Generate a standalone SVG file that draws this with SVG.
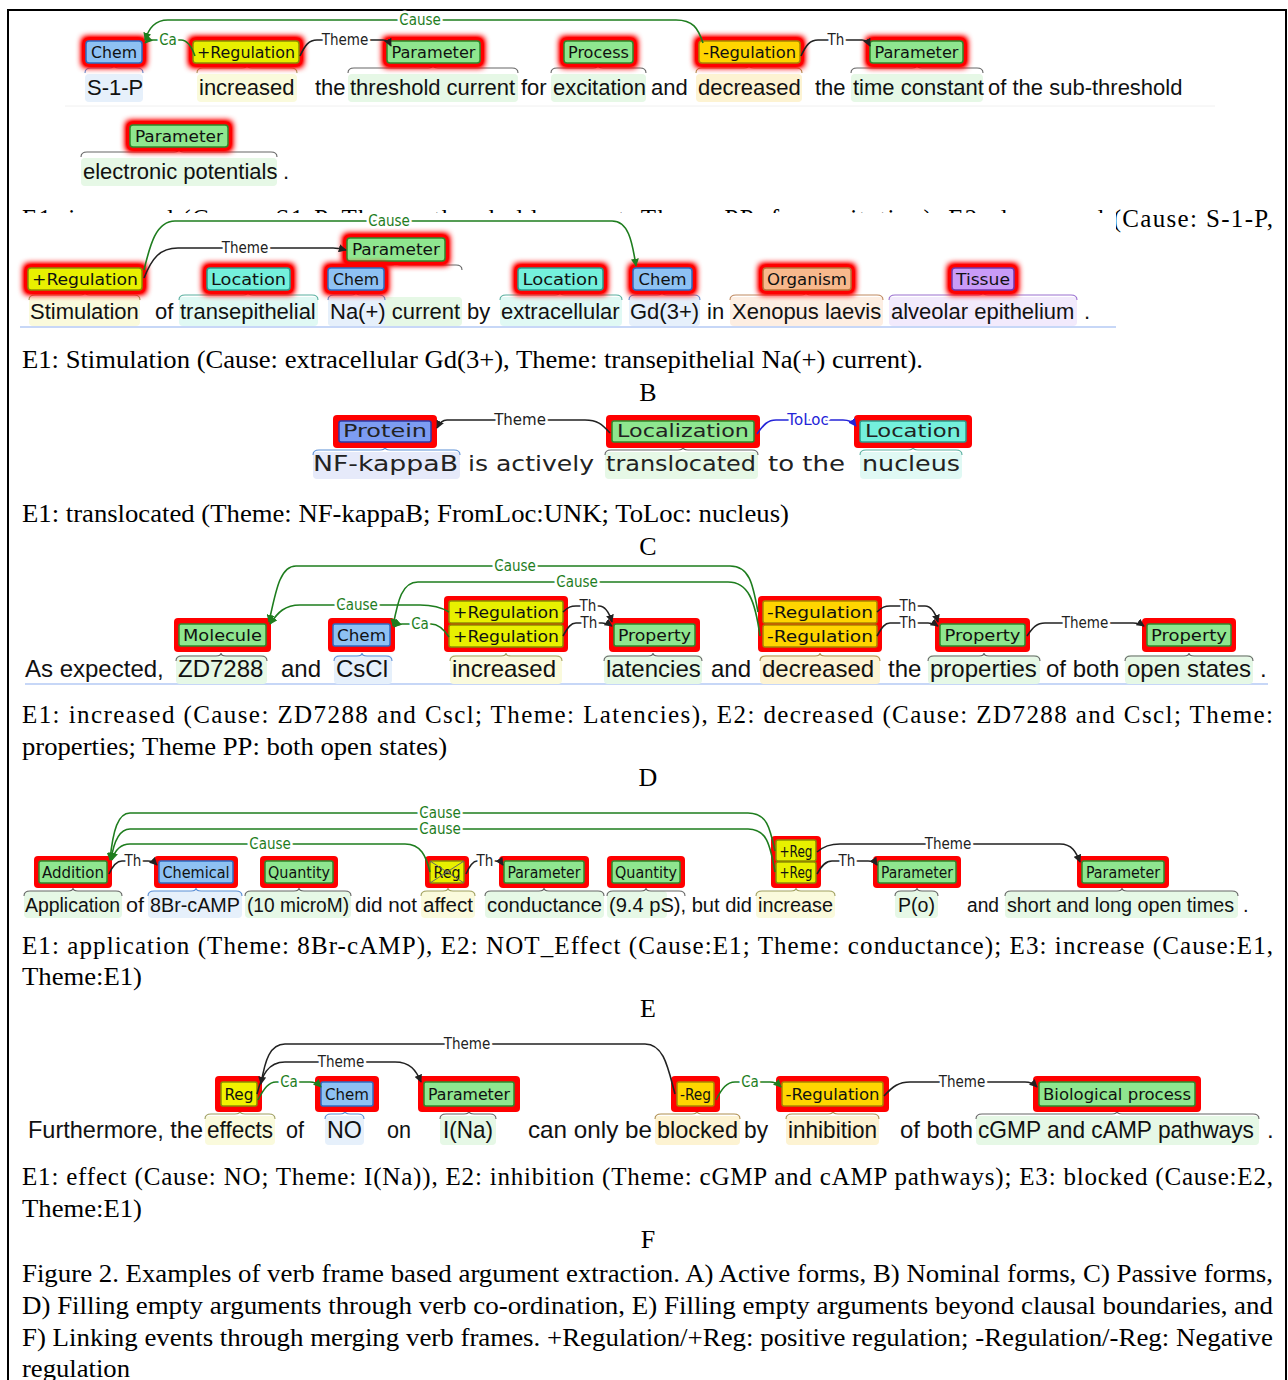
<svg xmlns="http://www.w3.org/2000/svg" width="1288" height="1380" viewBox="0 0 1288 1380">
<style>
.t{font-family:"Liberation Sans",Arial,sans-serif;font-size:22px;fill:#111}
.t20{font-family:"Liberation Sans",Arial,sans-serif;font-size:20px;fill:#111}
.t24{font-family:"Liberation Sans",Arial,sans-serif;font-size:24px;fill:#111}
.tc{font-family:"DejaVu Sans",Verdana,sans-serif;font-size:22px;fill:#222}
.cap{font-family:"Liberation Serif","Times New Roman",serif;font-size:25px;fill:#000}
.lt{font-family:"Liberation Serif","Times New Roman",serif;font-size:26px;fill:#000;text-anchor:middle}
.lb{font-family:"Liberation Sans Narrow","DejaVu Sans Condensed","Liberation Sans",sans-serif;font-size:16px;fill:#111;text-anchor:middle}
.lbc{font-family:"DejaVu Sans",Verdana,sans-serif;font-size:17px;fill:#222;text-anchor:middle}
.al{font-family:"Liberation Sans Narrow","DejaVu Sans Condensed","Liberation Sans",sans-serif;font-size:15px;text-anchor:middle;paint-order:stroke;stroke:#fff;stroke-width:5px;stroke-linejoin:round}
.alc{font-family:"DejaVu Sans",Verdana,sans-serif;font-size:15px;text-anchor:middle;paint-order:stroke;stroke:#fff;stroke-width:5px;stroke-linejoin:round}
.alg{fill:#1e7d1e}.alk{fill:#222}.alb{fill:#2424d8}
.cg{fill:none;stroke:#1e7d1e;stroke-width:1.6}
.ck{fill:none;stroke:#222;stroke-width:1.6}
.cb{fill:none;stroke:#2424d8;stroke-width:1.6}
.br{fill:none;stroke-width:1.1}
.brk{stroke:#666}.brb{stroke:#5b8fd6}.bry{stroke:#a0a060}.bro{stroke:#b09050}.brt{stroke:#5ab0a0}.brp{stroke:#c08a60}.brl{stroke:#9a70d0}
.glow{fill:#ff0000}
.red{fill:#f00}
.g{fill:#8fe68f;stroke:#2d8a2d;stroke-width:1.5}
.b{fill:#8ec1f3;stroke:#2b6cc4;stroke-width:1.5}
.y{fill:#e8f000;stroke:#8a8f00;stroke-width:1.5}
.o{fill:#ffd500;stroke:#a98600;stroke-width:1.5}
.tq{fill:#74f0dc;stroke:#2a9c8c;stroke-width:1.5}
.pr{fill:#7d9cf2;stroke:#2b3aa6;stroke-width:1.5}
.org{fill:#f8b88c;stroke:#b8743a;stroke-width:1.5}
.ti{fill:#c99bf7;stroke:#7237ad;stroke-width:1.5}
.hg{fill:#e6f8e6}.hb{fill:#e6f0fb}.hy{fill:#fafadc}.ho{fill:#fdf3d2}.ht{fill:#e0f9f4}.hp{fill:#fdeee2}.hl{fill:#f2eafc}.hpr{fill:#e6eafa}
</style>
<defs>
<filter id="gl" x="-40%" y="-80%" width="180%" height="260%"><feGaussianBlur stdDeviation="3.2"/><feComponentTransfer><feFuncA type="linear" slope="1.8"/></feComponentTransfer></filter>
<clipPath id="capclip"><rect x="0" y="190" width="1288" height="23"/><rect x="1116" y="190" width="172" height="60"/></clipPath>
<marker id="aG" viewBox="0 0 10 10" refX="9" refY="5" markerWidth="8" markerHeight="8" markerUnits="userSpaceOnUse" orient="auto"><path d="M0,0 L10,5 L0,10 z" fill="#1e7d1e"/></marker>
<marker id="aK" viewBox="0 0 10 10" refX="9" refY="5" markerWidth="8" markerHeight="8" markerUnits="userSpaceOnUse" orient="auto"><path d="M0,0 L10,5 L0,10 z" fill="#222"/></marker>
<marker id="aB" viewBox="0 0 10 10" refX="9" refY="5" markerWidth="8" markerHeight="8" markerUnits="userSpaceOnUse" orient="auto"><path d="M0,0 L10,5 L0,10 z" fill="#2424d8"/></marker>
</defs>
<rect x="0" y="0" width="1288" height="1380" fill="#fff"/>
<g id="frame" stroke="#000" stroke-width="2" fill="none">
<path d="M8,1380 L8,10 L1286,10 L1286,1380"/>
</g>

<!-- Panel A -->
<g id="panelA">
<line x1="65" y1="106" x2="1215" y2="106" stroke="#f0f0f0" stroke-width="1"/>
<g id="a-chem">
<rect class="hb" x="85" y="74" width="58" height="28" rx="4"/>
<path class="br brb" d="M85,73 C85,69 87,68 91,68 L109,68 C112,68 114,67 114,65 C114,67 116,68 119,68 L137,68 C141,68 143,69 143,73"/>
<rect class="glow" x="82" y="37" width="64" height="30" rx="4" filter="url(#gl)"/>
<rect class="b" x="86" y="41" width="56" height="22" rx="3"/>
<text class="lb" x="114" y="58" textLength="46" lengthAdjust="spacingAndGlyphs">Chem</text>
</g>
<g id="a-preg">
<rect class="hy" x="197" y="74" width="100" height="28" rx="4"/>
<path class="br bry" d="M197,73 C197,69 199,68 203,68 L242,68 C245,68 247,67 247,65 C247,67 249,68 252,68 L291,68 C295,68 297,69 297,73"/>
<rect class="glow" x="189" y="37" width="114" height="30" rx="4" filter="url(#gl)"/>
<rect class="y" x="193" y="41" width="106" height="22" rx="3"/>
<text class="lb" x="246" y="58" textLength="98" lengthAdjust="spacingAndGlyphs">+Regulation</text>
</g>
<g id="a-param1">
<rect class="hg" x="348" y="74" width="170" height="28" rx="4"/>
<path class="br brk" d="M348,73 C348,69 350,68 354,68 L428,68 C431,68 433,67 433,65 C433,67 435,68 438,68 L512,68 C516,68 518,69 518,73"/>
<rect class="glow" x="383" y="37" width="101" height="30" rx="4" filter="url(#gl)"/>
<rect class="g" x="387" y="41" width="93" height="22" rx="3"/>
<text class="lb" x="433.5" y="58" textLength="84" lengthAdjust="spacingAndGlyphs">Parameter</text>
</g>
<g id="a-process">
<rect class="hg" x="551" y="74" width="95" height="28" rx="4"/>
<path class="br brk" d="M551,73 C551,69 553,68 557,68 L593,68 C596,68 598,67 598,65 C598,67 600,68 603,68 L640,68 C644,68 646,69 646,73"/>
<rect class="glow" x="560" y="37" width="77" height="30" rx="4" filter="url(#gl)"/>
<rect class="g" x="564" y="41" width="69" height="22" rx="3"/>
<text class="lb" x="598.5" y="58" textLength="61" lengthAdjust="spacingAndGlyphs">Process</text>
</g>
<g id="a-nreg">
<rect class="ho" x="696" y="74" width="106" height="28" rx="4"/>
<path class="br bro" d="M696,73 C696,69 698,68 702,68 L744,68 C747,68 749,67 749,65 C749,67 751,68 754,68 L796,68 C800,68 802,69 802,73"/>
<rect class="glow" x="695" y="37" width="109" height="30" rx="4" filter="url(#gl)"/>
<rect class="o" x="699" y="41" width="101" height="22" rx="3"/>
<text class="lb" x="749.5" y="58" textLength="93" lengthAdjust="spacingAndGlyphs">-Regulation</text>
</g>
<g id="a-param2">
<rect class="hg" x="851" y="74" width="132" height="28" rx="4"/>
<path class="br brk" d="M851,73 C851,69 853,68 857,68 L912,68 C915,68 917,67 917,65 C917,67 919,68 922,68 L977,68 C981,68 983,69 983,73"/>
<rect class="glow" x="866" y="37" width="101" height="30" rx="4" filter="url(#gl)"/>
<rect class="g" x="870" y="41" width="93" height="22" rx="3"/>
<text class="lb" x="916.5" y="58" textLength="84" lengthAdjust="spacingAndGlyphs">Parameter</text>
</g>
<g id="a-param3">
<rect class="hg" x="81" y="158" width="196" height="28" rx="4"/>
<path class="br brk" d="M81,157 C81,153 83,152 87,152 L174,152 C177,152 179,151 179,149 C179,151 181,152 184,152 L271,152 C275,152 277,153 277,157"/>
<rect class="glow" x="126" y="121" width="106" height="30" rx="4" filter="url(#gl)"/>
<rect class="g" x="130" y="125" width="98" height="22" rx="3"/>
<text class="lb" x="179" y="142" textLength="88" lengthAdjust="spacingAndGlyphs">Parameter</text>
</g>
<g id="a-words">
<text class="t" x="87" y="95">S-1-P</text>
<text class="t" x="199" y="95">increased</text>
<text class="t" x="315" y="95">the</text>
<text class="t" x="350" y="95">threshold current</text>
<text class="t" x="521" y="95">for</text>
<text class="t" x="553" y="95">excitation</text>
<text class="t" x="651" y="95">and</text>
<text class="t" x="698" y="95">decreased</text>
<text class="t" x="815" y="95">the</text>
<text class="t" x="853" y="95">time constant</text>
<text class="t" x="988" y="95">of the sub-threshold</text>
<text class="t" x="83" y="179">electronic potentials</text>
<text class="t" x="283" y="179">.</text>
</g>
<g id="a-connectors">
<path class="cg" d="M703,43 C698,28 693,20 676,20 L168,20 C155,20 149,28 145,40" marker-end="url(#aG)"/>
<path class="cg" d="M195,56 C191,45 187,40 181,40 L152,40 C149,40 147,41 145,43" marker-end="url(#aG)"/>
<path class="ck" d="M300,56 C305,45 309,40 317,40 L383,40 C387,40 389,42 391,46" marker-end="url(#aK)"/>
<path class="ck" d="M801,56 C806,45 810,40 818,40 L862,40 C866,40 868,42 870,46" marker-end="url(#aK)"/>
<text class="al alg" x="420" y="25">Cause</text>
<text class="al alg" x="168" y="45">Ca</text>
<text class="al alk" x="345" y="45">Theme</text>
<text class="al alk" x="836" y="45">Th</text>
</g>
</g>

<text class="cap" x="22" y="227" textLength="1251" lengthAdjust="spacing" clip-path="url(#capclip)">E1: increased (Cause: S1-P, Theme: threshold current, Theme PP: for excitation), E2: decreased (Cause: S-1-P,</text>

<!-- Panel B -->
<g id="panelB">
<rect x="20" y="213" width="1096" height="115" fill="#fff"/>
<line x1="20" y1="327" x2="1116" y2="327" stroke="#8fb0f0" stroke-width="1.2"/>
<g id="b-preg">
<rect class="hy" x="29" y="297" width="111" height="29" rx="4"/>
<path class="br bry" d="M29,300 C29,296 31,295 35,295 L80,295 C83,295 85,294 85,292 C85,294 87,295 90,295 L134,295 C138,295 140,296 140,300"/>
<rect class="glow" x="24" y="264" width="122" height="30" rx="4" filter="url(#gl)"/>
<rect class="y" x="28" y="268" width="114" height="22" rx="3"/>
<text class="lb" x="85" y="285" textLength="106" lengthAdjust="spacingAndGlyphs">+Regulation</text>
</g>
<g id="b-loc1">
<rect class="ht" x="179" y="297" width="139" height="29" rx="4"/>
<path class="br brt" d="M179,300 C179,296 181,295 185,295 L243,295 C246,295 248,294 248,292 C248,294 250,295 253,295 L312,295 C316,295 318,296 318,300"/>
<rect class="glow" x="203" y="264" width="91" height="30" rx="4" filter="url(#gl)"/>
<rect class="tq" x="207" y="268" width="83" height="22" rx="3"/>
<text class="lb" x="248.5" y="285" textLength="75" lengthAdjust="spacingAndGlyphs">Location</text>
</g>
<g id="b-param">
<rect class="hg" x="328" y="297" width="134" height="29" rx="4"/>
<path class="br brk" d="M330,270 C330,266 332,265 336,265 L391,265 C394,265 396,264 396,262 C396,264 398,265 401,265 L456,265 C460,265 462,266 462,270"/>
<rect class="glow" x="343" y="234" width="106" height="31" rx="4" filter="url(#gl)"/>
<rect class="g" x="347" y="238" width="98" height="23" rx="3"/>
<text class="lb" x="396" y="255" textLength="88" lengthAdjust="spacingAndGlyphs">Parameter</text>
</g>
<g id="b-chem1">
<rect class="hb" x="328" y="297" width="57" height="29" rx="4"/>
<path class="br brb" d="M328,300 C328,296 330,295 334,295 L351,295 C354,295 356,294 356,292 C356,294 358,295 361,295 L379,295 C383,295 385,296 385,300"/>
<rect class="glow" x="324" y="264" width="64" height="30" rx="4" filter="url(#gl)"/>
<rect class="b" x="328" y="268" width="56" height="22" rx="3"/>
<text class="lb" x="356" y="285" textLength="46" lengthAdjust="spacingAndGlyphs">Chem</text>
</g>
<g id="b-loc2">
<rect class="ht" x="500" y="297" width="122" height="29" rx="4"/>
<path class="br brt" d="M500,300 C500,296 502,295 506,295 L555,295 C558,295 560,294 560,292 C560,294 562,295 565,295 L616,295 C620,295 622,296 622,300"/>
<rect class="glow" x="514" y="264" width="93" height="30" rx="4" filter="url(#gl)"/>
<rect class="tq" x="518" y="268" width="85" height="22" rx="3"/>
<text class="lb" x="560.5" y="285" textLength="76" lengthAdjust="spacingAndGlyphs">Location</text>
</g>
<g id="b-chem2">
<rect class="hb" x="629" y="297" width="71" height="29" rx="4"/>
<path class="br brb" d="M629,300 C629,296 631,295 635,295 L657,295 C660,295 662,294 662,292 C662,294 664,295 667,295 L694,295 C698,295 700,296 700,300"/>
<rect class="glow" x="629" y="264" width="67" height="30" rx="4" filter="url(#gl)"/>
<rect class="b" x="633" y="268" width="59" height="22" rx="3"/>
<text class="lb" x="662.5" y="285" textLength="48" lengthAdjust="spacingAndGlyphs">Chem</text>
</g>
<g id="b-org">
<rect class="hp" x="730" y="297" width="153" height="29" rx="4"/>
<path class="br brp" d="M730,300 C730,296 732,295 736,295 L801,295 C804,295 806,294 806,292 C806,294 808,295 811,295 L877,295 C881,295 883,296 883,300"/>
<rect class="glow" x="759" y="264" width="96" height="30" rx="4" filter="url(#gl)"/>
<rect class="org" x="763" y="268" width="88" height="22" rx="3"/>
<text class="lb" x="807" y="285" textLength="80" lengthAdjust="spacingAndGlyphs">Organism</text>
</g>
<g id="b-tissue">
<rect class="hl" x="889" y="297" width="188" height="29" rx="4"/>
<path class="br brl" d="M889,300 C889,296 891,295 895,295 L978,295 C981,295 983,294 983,292 C983,294 985,295 988,295 L1071,295 C1075,295 1077,296 1077,300"/>
<rect class="glow" x="948" y="264" width="70" height="30" rx="4" filter="url(#gl)"/>
<rect class="ti" x="952" y="268" width="62" height="22" rx="3"/>
<text class="lb" x="983" y="285" textLength="54" lengthAdjust="spacingAndGlyphs">Tissue</text>
</g>
<g id="b-words">
<text class="t" x="30" y="319">Stimulation</text>
<text class="t" x="155" y="319">of</text>
<text class="t" x="180" y="319">transepithelial</text>
<text class="t" x="330" y="319">Na(+) current</text>
<text class="t" x="467" y="319">by</text>
<text class="t" x="501" y="319">extracellular</text>
<text class="t" x="630" y="319">Gd(3+)</text>
<text class="t" x="707" y="319">in</text>
<text class="t" x="732" y="319">Xenopus laevis</text>
<text class="t" x="891" y="319">alveolar epithelium</text>
<text class="t" x="1084" y="319">.</text>
</g>
<g id="b-connectors">
<path class="cg" d="M144,270 C150,245 156,221 175,221 L612,221 C628,221 632,240 636,266" marker-end="url(#aG)"/>
<path class="ck" d="M144,278 C152,258 160,248 178,248 L333,248 C339,248 342,249 346,250" marker-end="url(#aK)"/>
<text class="al alg" x="389" y="226">Cause</text>
<text class="al alk" x="245" y="253">Theme</text>
</g>
</g>
<text class="cap" x="22" y="368" textLength="901" lengthAdjust="spacingAndGlyphs">E1: Stimulation (Cause: extracellular Gd(3+), Theme: transepithelial Na(+) current).</text>
<text class="lt" x="648" y="401">B</text>

<!-- Panel C -->
<g id="panelC">
<g id="c-protein">
<rect class="hpr" x="313" y="452" width="147" height="27" rx="4"/>
<path class="br brb" d="M313,455 C313,451 315,450 319,450 L380,450 C383,450 385,449 385,447 C385,449 387,450 390,450 L454,450 C458,450 460,451 460,455"/>
<rect class="red" x="333" y="415" width="104" height="33" rx="4"/>
<rect class="pr" x="339" y="421" width="92" height="21" rx="2"/>
<text class="lbc" x="385" y="437" textLength="84" lengthAdjust="spacingAndGlyphs">Protein</text>
</g>
<g id="c-localization">
<rect class="hg" x="605" y="452" width="153" height="27" rx="4"/>
<path class="br brk" d="M605,455 C605,451 607,450 611,450 L678,450 C681,450 683,449 683,447 C683,449 685,450 688,450 L752,450 C756,450 758,451 758,455"/>
<rect class="red" x="606" y="415" width="154" height="33" rx="4"/>
<rect class="g" x="612" y="421" width="142" height="21" rx="2"/>
<text class="lbc" x="683" y="437" textLength="132" lengthAdjust="spacingAndGlyphs">Localization</text>
</g>
<g id="c-location">
<rect class="ht" x="860" y="452" width="102" height="27" rx="4"/>
<path class="br brt" d="M860,455 C860,451 862,450 866,450 L908,450 C911,450 913,449 913,447 C913,449 915,450 918,450 L956,450 C960,450 962,451 962,455"/>
<rect class="red" x="854" y="415" width="118" height="33" rx="4"/>
<rect class="tq" x="860" y="421" width="106" height="21" rx="2"/>
<text class="lbc" x="913" y="437" textLength="96" lengthAdjust="spacingAndGlyphs">Location</text>
</g>
<g id="c-words">
<text class="tc" x="313" y="471" textLength="145" lengthAdjust="spacingAndGlyphs">NF-kappaB</text>
<text class="tc" x="468" y="471" textLength="126" lengthAdjust="spacingAndGlyphs">is actively</text>
<text class="tc" x="606" y="471" textLength="150" lengthAdjust="spacingAndGlyphs">translocated</text>
<text class="tc" x="768" y="471" textLength="77" lengthAdjust="spacingAndGlyphs">to the</text>
<text class="tc" x="862" y="471" textLength="98" lengthAdjust="spacingAndGlyphs">nucleus</text>
</g>
<g id="c-connectors">
<path class="ck" d="M610,433 C602,424 597,420 585,420 L447,420 C442,420 439,424 437,428" marker-end="url(#aK)"/>
<path class="cb" d="M757,434 C764,424 768,420 776,420 L843,420 C849,420 853,422 856,426" marker-end="url(#aB)"/>
<text class="alc alk" x="520" y="425">Theme</text>
<text class="alc alb" x="808" y="425">ToLoc</text>
</g>
</g>
<text class="cap" x="22" y="522" textLength="767" lengthAdjust="spacingAndGlyphs">E1: translocated (Theme: NF-kappaB; FromLoc:UNK; ToLoc: nucleus)</text>
<text class="lt" x="648" y="555">C</text>

<!-- Panel D -->
<g id="panelD">
<line x1="25" y1="684" x2="1268" y2="684" stroke="#8fb0f0" stroke-width="1.2"/>
<g id="d-molecule">
<rect class="hg" x="176" y="655" width="91" height="29" rx="4"/>
<path class="br brk" d="M176,661 C176,657 178,656 182,656 L216,656 C219,656 221,655 221,653 C221,655 223,656 226,656 L261,656 C265,656 267,657 267,661"/>
<rect class="red" x="174" y="618" width="97" height="34" rx="4"/>
<rect class="g" x="179" y="624" width="87" height="22" rx="2"/>
<text class="lb" x="222.5" y="641" font-size="17" textLength="79" lengthAdjust="spacingAndGlyphs">Molecule</text>
</g>
<g id="d-chem">
<rect class="hb" x="334" y="655" width="58" height="29" rx="4"/>
<path class="br brb" d="M334,661 C334,657 336,656 340,656 L357,656 C360,656 362,655 362,653 C362,655 364,656 367,656 L386,656 C390,656 392,657 392,661"/>
<rect class="red" x="328" y="618" width="67" height="34" rx="4"/>
<rect class="b" x="333" y="624" width="57" height="22" rx="2"/>
<text class="lb" x="361.5" y="641" font-size="17" textLength="49" lengthAdjust="spacingAndGlyphs">Chem</text>
</g>
<g id="d-preg">
<rect class="hy" x="450" y="655" width="112" height="29" rx="4"/>
<path class="br bry" d="M450,661 C450,657 452,656 456,656 L501,656 C504,656 506,655 506,653 C506,655 508,656 511,656 L556,656 C560,656 562,657 562,661"/>
<rect class="red" x="444" y="596" width="124" height="56" rx="4"/>
<rect class="y" x="449" y="601" width="114" height="22" rx="2"/>
<rect class="y" x="449" y="625" width="114" height="22" rx="2"/>
<text class="lb" x="506" y="618" font-size="17" textLength="106" lengthAdjust="spacingAndGlyphs">+Regulation</text>
<text class="lb" x="506" y="642" font-size="17" textLength="106" lengthAdjust="spacingAndGlyphs">+Regulation</text>
</g>
<g id="d-prop1">
<rect class="hg" x="604" y="655" width="98" height="29" rx="4"/>
<path class="br brk" d="M604,661 C604,657 606,656 610,656 L648,656 C651,656 653,655 653,653 C653,655 655,656 658,656 L696,656 C700,656 702,657 702,661"/>
<rect class="red" x="609" y="618" width="91" height="34" rx="4"/>
<rect class="g" x="614" y="624" width="81" height="22" rx="2"/>
<text class="lb" x="654.5" y="641" font-size="17" textLength="73" lengthAdjust="spacingAndGlyphs">Property</text>
</g>
<g id="d-nreg">
<rect class="ho" x="760" y="655" width="120" height="29" rx="4"/>
<path class="br bro" d="M760,661 C760,657 762,656 766,656 L815,656 C818,656 820,655 820,653 C820,655 822,656 825,656 L874,656 C878,656 880,657 880,661"/>
<rect class="red" x="758" y="596" width="124" height="56" rx="4"/>
<rect class="o" x="763" y="601" width="114" height="22" rx="2"/>
<rect class="o" x="763" y="625" width="114" height="22" rx="2"/>
<text class="lb" x="820" y="618" font-size="17" textLength="106" lengthAdjust="spacingAndGlyphs">-Regulation</text>
<text class="lb" x="820" y="642" font-size="17" textLength="106" lengthAdjust="spacingAndGlyphs">-Regulation</text>
</g>
<g id="d-prop2">
<rect class="hg" x="928" y="655" width="112" height="29" rx="4"/>
<path class="br brk" d="M928,661 C928,657 930,656 934,656 L979,656 C982,656 984,655 984,653 C984,655 986,656 989,656 L1034,656 C1038,656 1040,657 1040,661"/>
<rect class="red" x="935" y="618" width="95" height="34" rx="4"/>
<rect class="g" x="940" y="624" width="85" height="22" rx="2"/>
<text class="lb" x="982.5" y="641" font-size="17" textLength="76" lengthAdjust="spacingAndGlyphs">Property</text>
</g>
<g id="d-prop3">
<rect class="hg" x="1125" y="655" width="128" height="29" rx="4"/>
<path class="br brk" d="M1125,661 C1125,657 1127,656 1131,656 L1184,656 C1187,656 1189,655 1189,653 C1189,655 1191,656 1194,656 L1247,656 C1251,656 1253,657 1253,661"/>
<rect class="red" x="1142" y="618" width="94" height="34" rx="4"/>
<rect class="g" x="1147" y="624" width="84" height="22" rx="2"/>
<text class="lb" x="1189" y="641" font-size="17" textLength="76" lengthAdjust="spacingAndGlyphs">Property</text>
</g>
<g id="d-words">
<text class="t24" x="25" y="677">As expected,</text>
<text class="t24" x="178" y="677">ZD7288</text>
<text class="t24" x="281" y="677">and</text>
<text class="t24" x="336" y="677">CsCl</text>
<text class="t24" x="452" y="677">increased</text>
<text class="t24" x="606" y="677">latencies</text>
<text class="t24" x="711" y="677">and</text>
<text class="t24" x="762" y="677">decreased</text>
<text class="t24" x="888" y="677">the</text>
<text class="t24" x="930" y="677">properties</text>
<text class="t24" x="1046" y="677">of both</text>
<text class="t24" x="1127" y="677">open states</text>
<text class="t24" x="1260" y="677">.</text>
</g>
<g id="d-connectors">
<path class="cg" d="M758,612 C753,585 750,566 730,566 L296,566 C280,566 276,590 269,622" marker-end="url(#aG)"/>
<path class="cg" d="M760,636 C755,600 748,582 728,582 L418,582 C402,582 398,600 393,626" marker-end="url(#aG)"/>
<path class="cg" d="M449,612 C441,607 433,605 420,605 L300,605 C285,605 278,612 270,624" marker-end="url(#aG)"/>
<path class="cg" d="M449,637 C443,628 438,624 431,624 L402,624 C398,624 396,625 394,627" marker-end="url(#aG)"/>
<path class="ck" d="M563,612 C568,607 571,606 576,606 L599,606 C605,606 609,612 612,622" marker-end="url(#aK)"/>
<path class="ck" d="M563,636 C568,627 571,623 576,623 L602,623 C606,623 609,624 612,626" marker-end="url(#aK)"/>
<path class="ck" d="M877,612 C882,607 885,606 890,606 L925,606 C931,606 935,612 938,622" marker-end="url(#aK)"/>
<path class="ck" d="M877,636 C882,627 885,623 890,623 L928,623 C932,623 935,624 938,626" marker-end="url(#aK)"/>
<path class="ck" d="M1027,636 C1033,627 1037,623 1045,623 L1133,623 C1138,623 1141,624 1144,626" marker-end="url(#aK)"/>
<text class="al alg" x="515" y="571" font-size="16">Cause</text>
<text class="al alg" x="577" y="587" font-size="16">Cause</text>
<text class="al alg" x="357" y="610" font-size="16">Cause</text>
<text class="al alg" x="420" y="629" font-size="16">Ca</text>
<text class="al alk" x="588" y="611" font-size="16">Th</text>
<text class="al alk" x="589" y="628" font-size="16">Th</text>
<text class="al alk" x="908" y="611" font-size="16">Th</text>
<text class="al alk" x="908" y="628" font-size="16">Th</text>
<text class="al alk" x="1085" y="628" font-size="16">Theme</text>
</g>
</g>
<text class="cap" x="22" y="723" textLength="1251" lengthAdjust="spacing">E1: increased (Cause: ZD7288 and Cscl; Theme: Latencies), E2: decreased (Cause: ZD7288 and Cscl; Theme:</text>
<text class="cap" x="22" y="755" textLength="425" lengthAdjust="spacingAndGlyphs">properties; Theme PP: both open states)</text>
<text class="lt" x="648" y="786">D</text>

<!-- Panel E -->
<g id="panelE">
<g id="e-addition">
<rect class="hg" x="24" y="891" width="98" height="27" rx="4"/>
<path class="br brk" d="M24,896 C24,892 26,891 30,891 L68,891 C71,891 73,890 73,888 C73,890 75,891 78,891 L116,891 C120,891 122,892 122,896"/>
<rect class="red" x="34" y="856" width="78" height="32" rx="4"/>
<rect class="g" x="39" y="861" width="68" height="22" rx="2"/>
<text class="lb" x="73" y="878" font-size="15" textLength="62" lengthAdjust="spacingAndGlyphs">Addition</text>
</g>
<g id="e-chemical">
<rect class="hb" x="148" y="891" width="94" height="27" rx="4"/>
<path class="br brb" d="M148,896 C148,892 150,891 154,891 L191,891 C194,891 196,890 196,888 C196,890 198,891 201,891 L236,891 C240,891 242,892 242,896"/>
<rect class="red" x="154" y="856" width="84" height="32" rx="4"/>
<rect class="b" x="159" y="861" width="74" height="22" rx="2"/>
<text class="lb" x="196" y="878" font-size="15" textLength="67" lengthAdjust="spacingAndGlyphs">Chemical</text>
</g>
<g id="e-quantity1">
<rect class="hg" x="245" y="891" width="106" height="27" rx="4"/>
<path class="br brk" d="M245,896 C245,892 247,891 251,891 L294,891 C297,891 299,890 299,888 C299,890 301,891 304,891 L345,891 C349,891 351,892 351,896"/>
<rect class="red" x="260" y="856" width="78" height="32" rx="4"/>
<rect class="g" x="265" y="861" width="68" height="22" rx="2"/>
<text class="lb" x="299" y="878" font-size="15" textLength="62" lengthAdjust="spacingAndGlyphs">Quantity</text>
</g>
<g id="e-reg">
<rect class="hy" x="421" y="891" width="54" height="27" rx="4"/>
<path class="br bry" d="M421,896 C421,892 423,891 427,891 L443,891 C446,891 448,890 448,888 C448,890 450,891 453,891 L469,891 C473,891 475,892 475,896"/>
<rect class="red" x="425" y="856" width="44" height="32" rx="4"/>
<rect class="y" x="430" y="861" width="34" height="22" rx="2"/>
<text class="lb" x="447" y="878" font-size="15" textLength="27" lengthAdjust="spacingAndGlyphs">Reg</text>
<line x1="430" y1="861" x2="464" y2="883" stroke="#666" stroke-width="1"/>
<line x1="464" y1="861" x2="430" y2="883" stroke="#666" stroke-width="1"/>
</g>
<g id="e-param1">
<rect class="hg" x="485" y="891" width="119" height="27" rx="4"/>
<path class="br brk" d="M485,896 C485,892 487,891 491,891 L539,891 C542,891 544,890 544,888 C544,890 546,891 549,891 L598,891 C602,891 604,892 604,896"/>
<rect class="red" x="499" y="856" width="90" height="32" rx="4"/>
<rect class="g" x="504" y="861" width="80" height="22" rx="2"/>
<text class="lb" x="544" y="878" font-size="15" textLength="73" lengthAdjust="spacingAndGlyphs">Parameter</text>
</g>
<g id="e-quantity2">
<rect class="hg" x="607" y="891" width="60" height="27" rx="4"/>
<path class="br brk" d="M607,896 C607,892 609,891 613,891 L641,891 C644,891 646,890 646,888 C646,890 648,891 651,891 L679,891 C683,891 685,892 685,896"/>
<rect class="red" x="607" y="856" width="78" height="32" rx="4"/>
<rect class="g" x="612" y="861" width="68" height="22" rx="2"/>
<text class="lb" x="646" y="878" font-size="15" textLength="62" lengthAdjust="spacingAndGlyphs">Quantity</text>
</g>
<g id="e-preg">
<rect class="hy" x="756" y="891" width="79" height="27" rx="4"/>
<path class="br bry" d="M756,896 C756,892 758,891 762,891 L791,891 C794,891 796,890 796,888 C796,890 798,891 801,891 L829,891 C833,891 835,892 835,896"/>
<rect class="red" x="771" y="836" width="50" height="52" rx="4"/>
<rect class="y" x="776" y="840" width="40" height="21" rx="2"/>
<rect class="y" x="776" y="862" width="40" height="21" rx="2"/>
<text class="lb" x="796" y="857" font-size="15" textLength="33" lengthAdjust="spacingAndGlyphs">+Reg</text>
<text class="lb" x="796" y="878" font-size="15" textLength="33" lengthAdjust="spacingAndGlyphs">+Reg</text>
</g>
<g id="e-param2">
<rect class="hg" x="895" y="891" width="43" height="27" rx="4"/>
<path class="br brk" d="M895,896 C895,892 897,891 901,891 L912,891 C915,891 917,890 917,888 C917,890 919,891 922,891 L932,891 C936,891 938,892 938,896"/>
<rect class="red" x="873" y="856" width="88" height="32" rx="4"/>
<rect class="g" x="878" y="861" width="78" height="22" rx="2"/>
<text class="lb" x="917" y="878" font-size="15" textLength="72" lengthAdjust="spacingAndGlyphs">Parameter</text>
</g>
<g id="e-param3">
<rect class="hg" x="1005" y="891" width="233" height="27" rx="4"/>
<path class="br brk" d="M1005,896 C1005,892 1007,891 1011,891 L1117,891 C1120,891 1122,890 1122,888 C1122,890 1124,891 1127,891 L1232,891 C1236,891 1238,892 1238,896"/>
<rect class="red" x="1077" y="856" width="92" height="32" rx="4"/>
<rect class="g" x="1082" y="861" width="82" height="22" rx="2"/>
<text class="lb" x="1123" y="878" font-size="15" textLength="74" lengthAdjust="spacingAndGlyphs">Parameter</text>
</g>
<g id="e-words">
<text class="t20" x="25" y="912" textLength="95" lengthAdjust="spacingAndGlyphs">Application</text>
<text class="t20" x="126" y="912" textLength="18" lengthAdjust="spacingAndGlyphs">of</text>
<text class="t20" x="150" y="912" textLength="90" lengthAdjust="spacingAndGlyphs">8Br-cAMP</text>
<text class="t20" x="247" y="912" textLength="102" lengthAdjust="spacingAndGlyphs">(10 microM)</text>
<text class="t20" x="355" y="912" textLength="62" lengthAdjust="spacingAndGlyphs">did not</text>
<text class="t20" x="423" y="912" textLength="50" lengthAdjust="spacingAndGlyphs">affect</text>
<text class="t20" x="487" y="912" textLength="115" lengthAdjust="spacingAndGlyphs">conductance</text>
<text class="t20" x="609" y="912" textLength="143" lengthAdjust="spacingAndGlyphs">(9.4 pS), but did</text>
<text class="t20" x="758" y="912" textLength="75" lengthAdjust="spacingAndGlyphs">increase</text>
<text class="t20" x="898" y="912" textLength="37" lengthAdjust="spacingAndGlyphs">P(o)</text>
<text class="t20" x="967" y="912" textLength="32" lengthAdjust="spacingAndGlyphs">and</text>
<text class="t20" x="1007" y="912" textLength="227" lengthAdjust="spacingAndGlyphs">short and long open times</text>
<text class="t20" x="1243" y="912">.</text>
</g>
<g id="e-connectors">
<path class="cg" d="M775,851 C770,828 767,813 748,813 L130,813 C118,813 113,830 110,860" marker-end="url(#aG)"/>
<path class="cg" d="M775,872 C770,843 766,829 748,829 L130,829 C120,829 114,840 111,860" marker-end="url(#aG)"/>
<path class="cg" d="M430,872 C426,856 421,844 405,844 L130,844 C120,844 115,850 112,860" marker-end="url(#aG)"/>
<path class="ck" d="M109,874 C113,865 117,861 122,861 L148,861 C152,861 154,862 157,865" marker-end="url(#aK)"/>
<path class="ck" d="M466,874 C470,865 473,861 477,861 L496,861 C499,861 501,862 503,865" marker-end="url(#aK)"/>
<path class="ck" d="M817,852 C824,846 830,844 840,844 L1060,844 C1072,844 1076,852 1080,862" marker-end="url(#aK)"/>
<path class="ck" d="M817,874 C822,865 826,861 832,861 L868,861 C872,861 875,862 877,865" marker-end="url(#aK)"/>
<text class="al alg" x="440" y="818" font-size="14">Cause</text>
<text class="al alg" x="440" y="834" font-size="14">Cause</text>
<text class="al alg" x="270" y="849" font-size="14">Cause</text>
<text class="al alk" x="133" y="866" font-size="14">Th</text>
<text class="al alk" x="485" y="866" font-size="14">Th</text>
<text class="al alk" x="948" y="849" font-size="14">Theme</text>
<text class="al alk" x="847" y="866" font-size="14">Th</text>
</g>
</g>
<text class="cap" x="22" y="954" textLength="1251" lengthAdjust="spacing">E1: application (Theme: 8Br-cAMP), E2: NOT_Effect (Cause:E1; Theme: conductance); E3: increase (Cause:E1,</text>
<text class="cap" x="22" y="985" textLength="120" lengthAdjust="spacingAndGlyphs">Theme:E1)</text>
<text class="lt" x="648" y="1017">E</text>

<!-- Panel F -->
<g id="panelF">
<g id="f-reg">
<rect class="hy" x="205" y="1116" width="70" height="29" rx="4"/>
<path class="br bry" d="M205,1119 C205,1115 207,1114 211,1114 L235,1114 C238,1114 240,1113 240,1111 C240,1113 242,1114 245,1114 L269,1114 C273,1114 275,1115 275,1119"/>
<rect class="red" x="215" y="1076" width="47" height="36" rx="4"/>
<rect class="y" x="221" y="1082" width="36" height="24" rx="2" style="fill:#f2f200"/>
<text class="lb" x="239" y="1100" font-size="17" textLength="29" lengthAdjust="spacingAndGlyphs">Reg</text>
</g>
<g id="f-chem">
<rect class="hb" x="325" y="1116" width="39" height="29" rx="4"/>
<path class="br brb" d="M325,1119 C325,1115 327,1114 331,1114 L340,1114 C343,1114 345,1113 345,1111 C345,1113 347,1114 350,1114 L358,1114 C362,1114 364,1115 364,1119"/>
<rect class="red" x="315" y="1076" width="64" height="36" rx="4"/>
<rect class="b" x="321" y="1082" width="52" height="24" rx="2"/>
<text class="lb" x="347" y="1100" font-size="17" textLength="44" lengthAdjust="spacingAndGlyphs">Chem</text>
</g>
<g id="f-param">
<rect class="hg" x="440" y="1116" width="56" height="29" rx="4"/>
<path class="br brk" d="M440,1119 C440,1115 442,1114 446,1114 L464,1114 C467,1114 469,1113 469,1111 C469,1113 471,1114 474,1114 L490,1114 C494,1114 496,1115 496,1119"/>
<rect class="red" x="418" y="1076" width="102" height="36" rx="4"/>
<rect class="g" x="424" y="1082" width="90" height="24" rx="2"/>
<text class="lb" x="469" y="1100" font-size="17" textLength="82" lengthAdjust="spacingAndGlyphs">Parameter</text>
</g>
<g id="f-nreg">
<rect class="ho" x="655" y="1116" width="85" height="29" rx="4"/>
<path class="br bro" d="M655,1119 C655,1115 657,1114 661,1114 L692,1114 C695,1114 697,1113 697,1111 C697,1113 699,1114 702,1114 L734,1114 C738,1114 740,1115 740,1119"/>
<rect class="red" x="671" y="1076" width="49" height="36" rx="4"/>
<rect class="o" x="677" y="1082" width="37" height="24" rx="2"/>
<text class="lb" x="695.5" y="1100" font-size="17" textLength="31" lengthAdjust="spacingAndGlyphs">-Reg</text>
</g>
<g id="f-nregulation">
<rect class="ho" x="786" y="1116" width="93" height="29" rx="4"/>
<path class="br bro" d="M786,1119 C786,1115 788,1114 792,1114 L828,1114 C831,1114 833,1113 833,1111 C833,1113 835,1114 838,1114 L873,1114 C877,1114 879,1115 879,1119"/>
<rect class="red" x="776" y="1076" width="113" height="36" rx="4"/>
<rect class="o" x="782" y="1082" width="101" height="24" rx="2"/>
<text class="lb" x="832.5" y="1100" font-size="17" textLength="94" lengthAdjust="spacingAndGlyphs">-Regulation</text>
</g>
<g id="f-bio">
<rect class="hg" x="976" y="1116" width="283" height="29" rx="4"/>
<path class="br brk" d="M976,1119 C976,1115 978,1114 982,1114 L1112,1114 C1115,1114 1117,1113 1117,1111 C1117,1113 1119,1114 1122,1114 L1253,1114 C1257,1114 1259,1115 1259,1119"/>
<rect class="red" x="1033" y="1076" width="168" height="36" rx="4"/>
<rect class="g" x="1039" y="1082" width="156" height="24" rx="2"/>
<text class="lb" x="1117" y="1100" font-size="17" textLength="148" lengthAdjust="spacingAndGlyphs">Biological process</text>
</g>
<g id="f-words">
<text class="t24" x="28" y="1138" textLength="175" lengthAdjust="spacingAndGlyphs">Furthermore, the</text>
<text class="t24" x="207" y="1138" textLength="66" lengthAdjust="spacingAndGlyphs">effects</text>
<text class="t24" x="286" y="1138" textLength="18" lengthAdjust="spacingAndGlyphs">of</text>
<text class="t24" x="327" y="1138" textLength="35" lengthAdjust="spacingAndGlyphs">NO</text>
<text class="t24" x="387" y="1138" textLength="24" lengthAdjust="spacingAndGlyphs">on</text>
<text class="t24" x="443" y="1138" textLength="50" lengthAdjust="spacingAndGlyphs">I(Na)</text>
<text class="t24" x="528" y="1138" textLength="124" lengthAdjust="spacingAndGlyphs">can only be</text>
<text class="t24" x="657" y="1138" textLength="81" lengthAdjust="spacingAndGlyphs">blocked</text>
<text class="t24" x="744" y="1138" textLength="24" lengthAdjust="spacingAndGlyphs">by</text>
<text class="t24" x="788" y="1138" textLength="89" lengthAdjust="spacingAndGlyphs">inhibition</text>
<text class="t24" x="900" y="1138" textLength="73" lengthAdjust="spacingAndGlyphs">of both</text>
<text class="t24" x="978" y="1138" textLength="276" lengthAdjust="spacingAndGlyphs">cGMP and cAMP pathways</text>
<text class="t24" x="1267" y="1138">.</text>
</g>
<g id="f-connectors">
<path class="ck" d="M675,1094 C668,1068 664,1044 645,1044 L285,1044 C270,1044 265,1060 261,1084" marker-end="url(#aK)"/>
<path class="ck" d="M257,1094 C262,1075 268,1062 285,1062 L395,1062 C410,1062 416,1070 421,1082" marker-end="url(#aK)"/>
<path class="cg" d="M258,1100 C264,1088 269,1082 276,1082 L310,1082 C315,1082 318,1084 321,1087" marker-end="url(#aG)"/>
<path class="cg" d="M716,1100 C722,1088 727,1082 735,1082 L770,1082 C775,1082 778,1084 781,1087" marker-end="url(#aG)"/>
<path class="ck" d="M884,1096 C893,1086 899,1082 910,1082 L1025,1082 C1031,1082 1034,1084 1037,1087" marker-end="url(#aK)"/>
<text class="al alk" x="467" y="1049" font-size="16">Theme</text>
<text class="al alk" x="341" y="1067" font-size="16">Theme</text>
<text class="al alg" x="289" y="1087" font-size="16">Ca</text>
<text class="al alg" x="750" y="1087" font-size="16">Ca</text>
<text class="al alk" x="962" y="1087" font-size="16">Theme</text>
</g>
</g>
<text class="cap" x="22" y="1185" textLength="1251" lengthAdjust="spacing">E1: effect (Cause: NO; Theme: I(Na)), E2: inhibition (Theme: cGMP and cAMP pathways); E3: blocked (Cause:E2,</text>
<text class="cap" x="22" y="1217" textLength="120" lengthAdjust="spacingAndGlyphs">Theme:E1)</text>
<text class="lt" x="648" y="1248">F</text>

<g id="figure-caption">
<text class="cap" x="22" y="1282" textLength="1251" lengthAdjust="spacingAndGlyphs">Figure 2. Examples of verb frame based argument extraction. A) Active forms, B) Nominal forms, C) Passive forms,</text>
<text class="cap" x="22" y="1314" textLength="1251" lengthAdjust="spacingAndGlyphs">D) Filling empty arguments through verb co-ordination, E) Filling empty arguments beyond clausal boundaries, and</text>
<text class="cap" x="22" y="1346" textLength="1251" lengthAdjust="spacingAndGlyphs">F) Linking events through merging verb frames. +Regulation/+Reg: positive regulation; -Regulation/-Reg: Negative</text>
<text class="cap" x="22" y="1377" textLength="108" lengthAdjust="spacingAndGlyphs">regulation</text>
</g>
</svg>
